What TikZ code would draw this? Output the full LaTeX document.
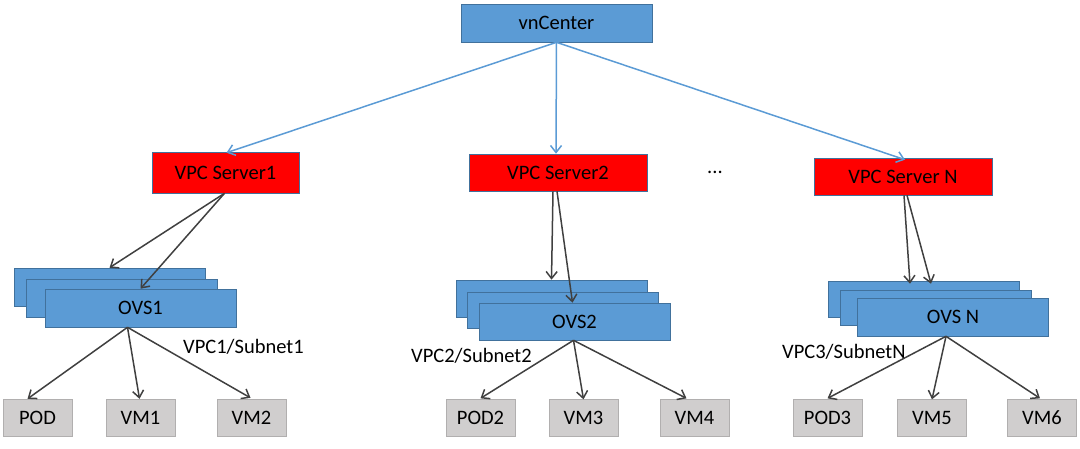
\documentclass[tikz,border=0pt]{standalone}
\usepackage{fontspec}
\setmainfont{Carlito}
\usetikzlibrary{arrows.meta}
\definecolor{boxblue}{HTML}{5B9BD5}
\definecolor{edgeblue}{HTML}{41719C}
\definecolor{srvred}{HTML}{FF0000}
\definecolor{leafgray}{HTML}{D0CECE}
\definecolor{arrgray}{HTML}{404040}
\tikzset{
  base/.style={rectangle, inner sep=0pt, font=\fontsize{20.5}{24}\selectfont, text=black},
  centerbox/.style={base, fill=boxblue, draw=edgeblue, line width=0.6pt, minimum width=191pt, minimum height=38pt},
  srvbox/.style={base, fill=srvred, draw=edgeblue, line width=0.6pt, minimum width=178pt, minimum height=39pt},
  ovsbox/.style={base, fill=boxblue, draw=edgeblue, line width=0.6pt, minimum width=191pt, minimum height=38pt},
  leafbox/.style={base, fill=leafgray, draw=leafgray!85!black, line width=0.3pt, minimum width=69pt, minimum height=37pt},
  lbl/.style={base},
  bluearr/.style={draw=boxblue, line width=1.5pt, -{Straight Barb[length=7pt,width=11pt]}},
  grayarr/.style={draw=arrgray, line width=1.5pt, -{Straight Barb[length=7pt,width=11pt]}},
}
\begin{document}
\begin{tikzpicture}[x=1pt,y=-1pt]
\useasboundingbox (0,0) rectangle (1080,448);
% top
\node[centerbox] (vn) at (556.5,23) {vnCenter};
% servers
\node[srvbox, minimum width=147pt, minimum height=41pt] (s1) at (225.5,172.5) {VPC Server1};
\node[srvbox, minimum height=37pt] (s2) at (558,172.5) {VPC Server2};
\node[srvbox, minimum height=37pt] (sN) at (903,176.5) {VPC Server N};
\node[lbl] (dots) at (715,172) {...};
% OVS stacks
\node[ovsbox] (o1a) at (109.5,287) {};
\node[ovsbox] (o1b) at (122,298.5) {};
\node[ovsbox] (o1c) at (140.5,308) {OVS1};
\node[ovsbox, minimum height=37pt] (o2a) at (551.5,298.5) {};
\node[ovsbox, minimum height=36pt] (o2b) at (563,310) {};
\node[ovsbox, minimum height=37pt] (o2c) at (574.5,321.5) {OVS2};
\node[ovsbox, minimum height=36pt] (oNa) at (924,299) {};
\node[ovsbox, minimum height=35pt] (oNb) at (935.5,307.5) {};
\node[ovsbox] (oNc) at (953,317) {OVS N};
% subnet labels
\node[lbl, anchor=west] (l1) at (183,347) {VPC1/Subnet1};
\node[lbl, anchor=west] (l2) at (411,356) {VPC2/Subnet2};
\node[lbl, anchor=west] (l3) at (782,352) {VPC3/SubnetN};
% leaves
\node[leafbox] (p1) at (37.5,417.5) {POD};
\node[leafbox] (v1) at (140.5,417.5) {VM1};
\node[leafbox] (v2) at (251.5,417.5) {VM2};
\node[leafbox] (p2) at (480.5,418) {POD2};
\node[leafbox] (v3) at (583.5,418) {VM3};
\node[leafbox] (v4) at (694.5,418) {VM4};
\node[leafbox] (p3) at (827.5,418) {POD3};
\node[leafbox] (v5) at (932,418) {VM5};
\node[leafbox] (v6) at (1042,418) {VM6};
% blue arrows
\draw[bluearr] (vn.south) -- ([xshift=1pt,yshift=-1pt]s1.north);
\draw[bluearr] (vn.south) -- ([xshift=-2pt]s2.north);
\draw[bluearr] (vn.south) -- ([xshift=2pt,yshift=-2pt]sN.north);
% server to OVS
\draw[grayarr] ([xshift=-1pt]s1.south) -- (o1a.north);
\draw[grayarr] ([xshift=-1pt]s1.south) -- (o1c.north);
\draw[grayarr] ([xshift=-5pt]s2.south) -- (o2a.north);
\draw[grayarr] ([xshift=-1pt]s2.south) -- ([xshift=-2pt]o2c.north);
\draw[grayarr] ([xshift=1pt]sN.south) -- ([xshift=-14pt,yshift=-3pt]oNa.north);
\draw[grayarr] ([xshift=4pt]sN.south) -- ([xshift=7pt,yshift=-3pt]oNa.north);
% OVS to leaves
\draw[grayarr] ([xshift=-13pt]o1c.south) -- ([xshift=-10pt]p1.north);
\draw[grayarr] ([xshift=-13pt]o1c.south) -- ([xshift=-1pt]v1.north);
\draw[grayarr] ([xshift=-13pt]o1c.south) -- ([xshift=-1pt,yshift=1pt]v2.north);
\draw[grayarr] ([xshift=-1pt]o2c.south) -- ([yshift=1pt]p2.north);
\draw[grayarr] ([xshift=-1pt]o2c.south) -- (v3.north);
\draw[grayarr] ([xshift=-1pt]o2c.south) -- ([xshift=-8pt,yshift=1pt]v4.north);
\draw[grayarr] ([xshift=-7pt]oNc.south) -- ([yshift=1pt]p3.north);
\draw[grayarr] ([xshift=-7pt]oNc.south) -- (v5.north);
\draw[grayarr] ([xshift=-7pt]oNc.south) -- ([xshift=-2pt,yshift=1pt]v6.north);
\end{tikzpicture}
\end{document}
